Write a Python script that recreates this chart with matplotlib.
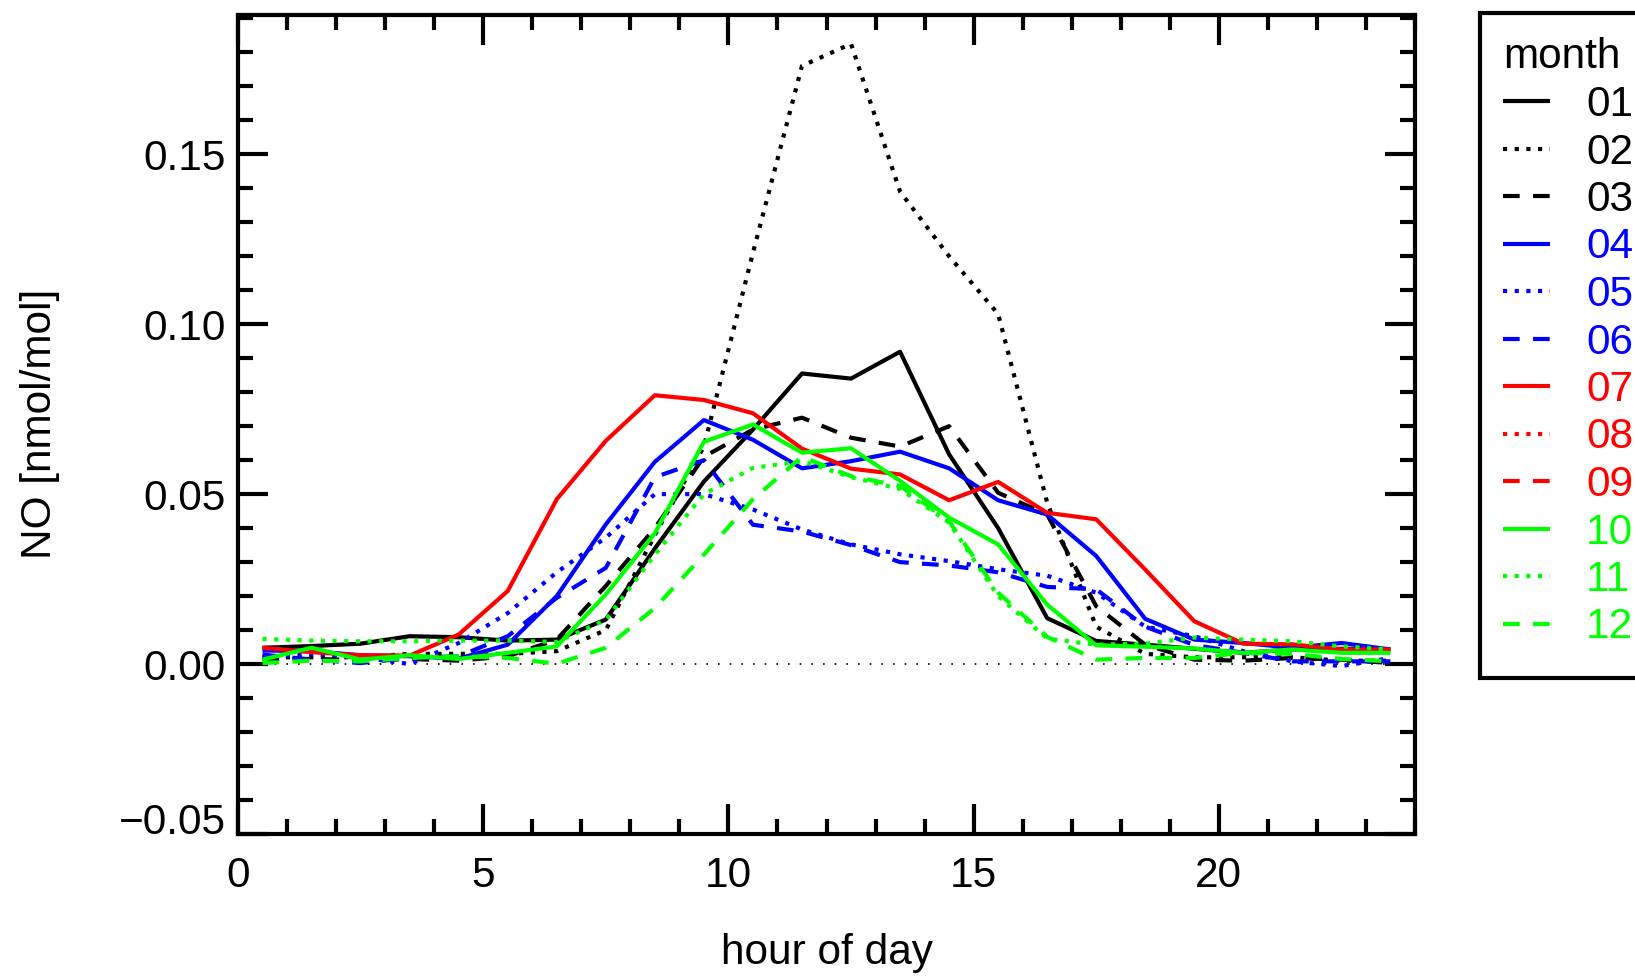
import numpy as np
import matplotlib
matplotlib.use("Agg")
import matplotlib.pyplot as plt
from matplotlib.ticker import MultipleLocator, FixedLocator
from matplotlib.lines import Line2D
from matplotlib.patches import Rectangle

plt.rcParams['font.family'] = ['Liberation Sans', 'DejaVu Sans']

hours = [h + 0.5 for h in range(24)]
months = ['01', '02', '03', '04', '05', '06', '07', '08', '09', '10', '11', '12']

m01 = [0.0048, 0.0053, 0.0060, 0.0082, 0.0079, 0.0069, 0.0072, 0.0131, 0.0340, 0.0537, 0.0690, 0.0855,
       0.0840, 0.0919, 0.0617, 0.0400, 0.0135, 0.0068, 0.0057, 0.0045, 0.0033, 0.0043, 0.0045, 0.0043]
m02 = [0.0020, 0.0020, 0.0020, 0.0030, 0.0030, 0.0030, 0.0038, 0.0100, 0.0380, 0.0640, 0.1210, 0.1760,
       0.1825, 0.1390, 0.1200, 0.1030, 0.0475, 0.0110, 0.0030, 0.0020, 0.0020, 0.0020, 0.0010, 0.0010]
m03 = [0.0015, 0.0015, 0.0012, 0.0015, 0.0010, 0.0023, 0.0072, 0.0230, 0.0400, 0.0610, 0.0690, 0.0725,
       0.0666, 0.0640, 0.0700, 0.0504, 0.0440, 0.0170, 0.0057, 0.0013, 0.0010, 0.0018, 0.0013, 0.0003]
m04 = [0.0040, 0.0038, 0.0026, 0.0023, 0.0016, 0.0057, 0.0200, 0.0411, 0.0595, 0.0718, 0.0660, 0.0576,
       0.0597, 0.0625, 0.0576, 0.0482, 0.0440, 0.0318, 0.0133, 0.0072, 0.0062, 0.0048, 0.0062, 0.0043]
m05 = [0.0020, 0.0030, 0.0020, 0.0000, 0.0062, 0.0150, 0.0270, 0.0372, 0.0500, 0.0500, 0.0455, 0.0396,
       0.0352, 0.0323, 0.0303, 0.0279, 0.0260, 0.0210, 0.0110, 0.0082, 0.0038, 0.0008, -0.0006, 0.0018]
m06 = [0.0028, 0.0013, 0.0003, 0.0018, 0.0023, 0.0082, 0.0195, 0.0283, 0.0550, 0.0600, 0.0410, 0.0390,
       0.0350, 0.0300, 0.0290, 0.0270, 0.0227, 0.0220, 0.0110, 0.0056, 0.0033, 0.0008, 0.0008, 0.0008]
m07 = [0.0048, 0.0035, 0.0026, 0.0025, 0.0087, 0.0215, 0.0485, 0.0657, 0.0791, 0.0777, 0.0738, 0.0634,
       0.0575, 0.0558, 0.0482, 0.0536, 0.0445, 0.0426, 0.0278, 0.0126, 0.0060, 0.0058, 0.0043, 0.0043]
m08 = [np.nan] * 24
m09 = [np.nan] * 24
m10 = [0.0013, 0.0048, 0.0013, 0.0026, 0.0015, 0.0033, 0.0052, 0.0205, 0.0385, 0.0654, 0.0705, 0.0622,
       0.0635, 0.0539, 0.0431, 0.0352, 0.0175, 0.0055, 0.0051, 0.0046, 0.0033, 0.0043, 0.0033, 0.0033]
m11 = [0.0074, 0.0069, 0.0067, 0.0067, 0.0069, 0.0069, 0.0065, 0.0130, 0.0322, 0.0500, 0.0577, 0.0597,
       0.0550, 0.0515, 0.0416, 0.0200, 0.0075, 0.0057, 0.0060, 0.0078, 0.0072, 0.0067, 0.0052, 0.0043]
m12 = [0.0003, 0.0010, 0.0008, 0.0018, 0.0023, 0.0018, 0.0001, 0.0048, 0.0165, 0.0322, 0.0485, 0.0610,
       0.0553, 0.0524, 0.0420, 0.0210, 0.0080, 0.0013, 0.0018, 0.0018, 0.0033, 0.0030, 0.0015, 0.0008]
series = [m01, m02, m03, m04, m05, m06, m07, m08, m09, m10, m11, m12]

colors = ['black'] * 3 + ['#0000ff'] * 3 + ['#ff0000'] * 3 + ['#00ff00'] * 3
LW = 3.0
styles = [(0, ()), (0, (1.0, 1.8)), (0, (4.0, 3.2))] * 4

xticks = [0, 5, 10, 15, 20]
yticks = [-0.05, 0.0, 0.05, 0.10, 0.15]
ytick_labels = ['\u22120.05', '0.00', '0.05', '0.10', '0.15']

FS = 30.5
W, H = 1635, 977
fig = plt.figure(figsize=(W / 100, H / 100), dpi=100)
ax = fig.add_axes([238 / W, 1 - 834 / H, (1415 - 238) / W, (834 - 14.6) / H])

ax.plot(hours, [0] * 24, color='black', lw=1.2, ls=(0, (1, 6)))
for s, c, st in zip(series, colors, styles):
    ax.plot(hours, s, color=c, lw=LW, ls=st, dash_capstyle='butt', solid_joinstyle='miter')

ax.set_xlim(0, 24)
ax.set_ylim(-0.05, 0.1911)
ax.xaxis.set_major_locator(FixedLocator(xticks))
ax.xaxis.set_minor_locator(MultipleLocator(1))
ax.yaxis.set_major_locator(FixedLocator(yticks))
ax.yaxis.set_minor_locator(MultipleLocator(0.01))
ax.set_xticklabels([str(t) for t in xticks])
ax.set_yticklabels(ytick_labels)
ax.tick_params(which='both', direction='in', top=True, right=True, width=3.0, labelsize=FS)
ax.tick_params(which='major', length=21.5)
ax.tick_params(which='minor', length=11)
ax.tick_params(axis='x', pad=16)
ax.tick_params(axis='y', pad=9)
for sp in ax.spines.values():
    sp.set_linewidth(3.0)
ax.get_yticklabels()[0].set_va('baseline')

ax.set_xlabel('hour of day', fontsize=FS)
ax.xaxis.set_label_coords(0.5, -0.121)
ax.set_ylabel('NO [nmol/mol]', fontsize=FS)
ax.yaxis.set_label_coords(-0.151, 0.5)

# legend box (extends past the right edge like the original)
fig.add_artist(Rectangle((1480 / W, 1 - 678 / H), 400 / W, (678 - 13.3) / H,
                         transform=fig.transFigure, facecolor='white', edgecolor='black', lw=3))
fig.text(1503 / W, 1 - 68 / H, 'month', fontsize=FS, ha='left', va='baseline')
for i, (m, c, st) in enumerate(zip(months, colors, styles)):
    yc = 101 + 47.5 * i
    fig.add_artist(Line2D([1503 / W, 1550 / W], [1 - yc / H] * 2, transform=fig.transFigure,
                          color=c, lw=LW, ls=st, dash_capstyle='butt'))
    fig.text(1586 / W, 1 - (yc + 15) / H, m, fontsize=FS, color=c, ha='left', va='baseline')

fig.savefig('out.png', dpi=100)
